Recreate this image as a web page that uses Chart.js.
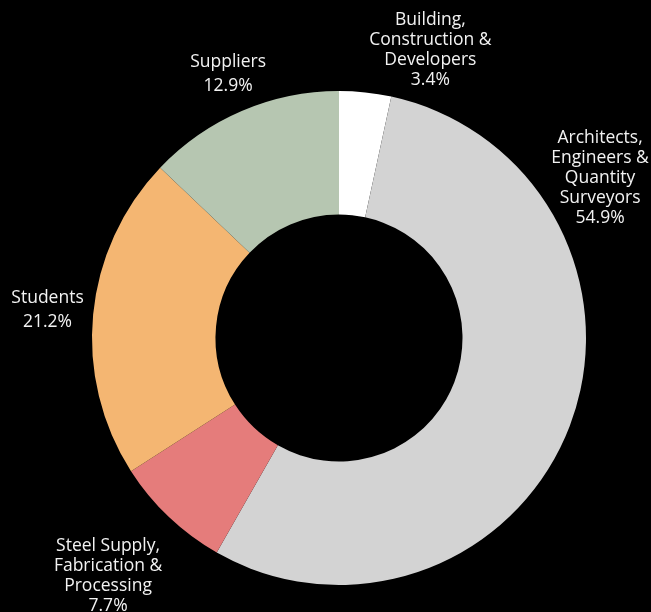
<!DOCTYPE html>
<html>
<head>
<meta charset="utf-8">
<script src="https://cdn.jsdelivr.net/npm/chart.js@4"></script>
<style>
  html, body { margin: 0; padding: 0; background: #000; }
  #wrap { width: 651px; height: 612px; }
</style>
</head>
<body>
<div id="wrap"><canvas id="donut"></canvas></div>
<script>
// categories (clockwise from the top), each split into its printed lines
const categories = [
  ['Building,', 'Construction &', 'Developers'],
  ['Architects,', 'Engineers &', 'Quantity', 'Surveyors'],
  ['Steel Supply,', 'Fabrication &', 'Processing'],
  ['Students'],
  ['Suppliers']
];
const shares = [3.4, 54.9, 7.7, 21.2, 12.9];
const sliceColors = ['#ffffff', '#d3d3d3', '#e57c7b', '#f4b672', '#b6c6b1'];

// where each label block sits, as a fraction of the outer radius from the centre
const labelOffsets = [
  [0.37, -1.165],
  [1.057, -0.648],
  [-0.935, 0.965],
  [-1.18, -0.115],
  [-0.449, -1.07]
];

const outsideLabels = {
  id: 'outsideLabels',
  afterDatasetsDraw(chart) {
    const ctx = chart.ctx;
    const arc = chart.getDatasetMeta(0).data[0];
    const cx = arc.x, cy = arc.y, r = arc.outerRadius;
    ctx.save();
    ctx.fillStyle = '#f2f2f2';
    ctx.font = '17.5px "Open Sans"';
    ctx.textAlign = 'center';
    ctx.textBaseline = 'middle';
    categories.forEach((lines, i) => {
      const all = lines.concat([shares[i].toFixed(1) + '%']);
      const lh = all.length > 2 ? 20 : 24;
      const x = cx + labelOffsets[i][0] * r;
      const y0 = cy + labelOffsets[i][1] * r - (all.length - 1) * lh / 2;
      all.forEach((t, j) => ctx.fillText(t, x, y0 + j * lh));
    });
    ctx.restore();
  }
};

new Chart(document.getElementById('donut'), {
  type: 'doughnut',
  data: {
    labels: categories.map(l => l.join(' ')),
    datasets: [{
      data: shares,
      backgroundColor: sliceColors,
      borderWidth: 0
    }]
  },
  options: {
    responsive: true,
    maintainAspectRatio: false,
    animation: false,
    cutout: '50%',
    layout: { padding: { left: 92, right: 65, top: 91, bottom: 27 } },
    plugins: {
      legend: { display: false },
      tooltip: { enabled: false }
    }
  },
  plugins: [outsideLabels]
});
</script>
</body>
</html>
